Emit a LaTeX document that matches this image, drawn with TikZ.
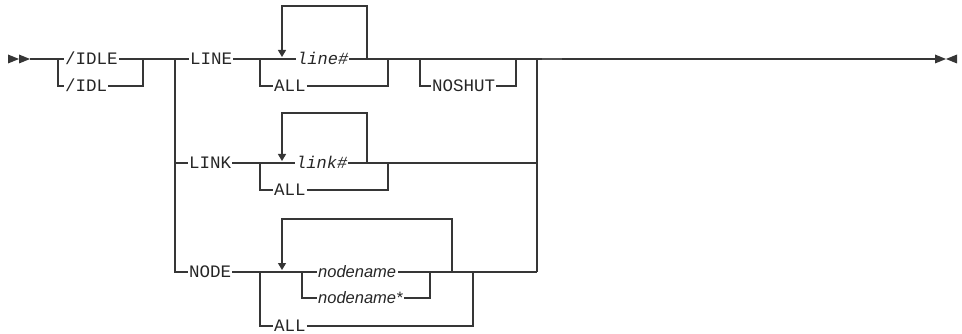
\documentclass[tikz,border=0pt]{standalone}
\usepackage{fontspec}
\setmainfont{Liberation Sans}
\newfontfamily\monofam{Liberation Mono}
\usetikzlibrary{arrows.meta}
\definecolor{linecol}{HTML}{363636}
\definecolor{textcol}{HTML}{262626}
\begin{document}
\begin{tikzpicture}[x=1pt,y=-1pt,
  rail/.style={draw=linecol,line width=1.2pt},
  loop/.style={rail,-{Triangle[width=8pt,length=7pt]}},
  tip/.style={fill=linecol,draw=none},
  kw/.style={anchor=west,inner xsep=1pt,inner ysep=0pt,text height=11.5pt,text depth=0pt,
    font=\monofam\fontsize{17.5}{17.5}\selectfont,text=textcol},
  mvar/.style={anchor=west,inner xsep=1pt,inner ysep=0pt,text height=11.5pt,text depth=0pt,
    font=\monofam\itshape\fontsize{17}{17}\selectfont,text=textcol},
  svar/.style={anchor=west,inner xsep=1.5pt,inner ysep=0pt,text height=11.5pt,text depth=0pt,
    font=\itshape\fontsize{16.5}{16.5}\selectfont,text=textcol}]
\useasboundingbox (0,0) rectangle (962,334);

% start and end markers
\fill[tip] (8,54.5) -- (19,59) -- (8,63.5) -- cycle;
\fill[tip] (19,54.5) -- (30,59) -- (19,63.5) -- cycle;
\fill[tip] (935,54.5) -- (946,59) -- (935,63.5) -- cycle;
\fill[tip] (957,54.5) -- (946,59) -- (957,63.5) -- cycle;

% coordinates
\coordinate (s) at (30,59);
\coordinate (f1) at (58,59);
\coordinate (m1) at (143,59);
\coordinate (f2) at (175,59);
\coordinate (f3) at (260,59);
\coordinate (l1a) at (282,57);
\coordinate (l1r) at (367,59);
\coordinate (m3) at (388,59);
\coordinate (f4) at (420,59);
\coordinate (m4) at (516,59);
\coordinate (j) at (537,59);
\coordinate (g1) at (542,59);
\coordinate (g2) at (562,59);
\coordinate (e) at (935,59);
\coordinate (f5) at (260,163);
\coordinate (l2a) at (282,161);
\coordinate (l2r) at (367,163);
\coordinate (m5) at (388,163);
\coordinate (j2) at (537,163);
\coordinate (f6) at (260,272);
\coordinate (l3a) at (282,270);
\coordinate (f7) at (302,272);
\coordinate (m7) at (430,272);
\coordinate (l3r) at (452,272);
\coordinate (m8) at (473,272);
\coordinate (j3) at (537,272);

% text nodes
\node[kw] (idle) at (64,59) {/IDLE};
\node[kw] (idl) at (64,86) {/IDL};
\node[kw] (line) at (189,59) {LINE};
\node[mvar] (linenum) at (296,59) {line\#};
\node[kw] (all1) at (273,86) {ALL};
\node[kw] (noshut) at (431,86) {NOSHUT};
\node[kw] (link) at (188,163) {LINK};
\node[mvar] (linknum) at (295,163) {link\#};
\node[kw] (all2) at (273,190) {ALL};
\node[kw] (node) at (188,272) {NODE};
\node[svar] (nn) at (316.5,272) {nodename};
\node[svar] (nns) at (316.5,298) {nodename*};
\node[kw] (all3) at (273,326) {ALL};

% first choice
\draw[rail] (s) -- (f1) -- (idle.west);
\draw[rail] (f1) |- (idl.west);
\draw[rail] (idle.east) -- (m1);
\draw[rail] (idl.east) -| (m1);
\draw[rail] (m1) -- (f2) -- (line.west);

% LINE row
\draw[rail] (line.east) -- (f3) -- (linenum.west);
\draw[rail] (f3) |- (all1.west);
\draw[loop] (l1r) -- ++(0,-53) -| (l1a);
\draw[rail] (linenum.east) -- (m3);
\draw[rail] (all1.east) -| (m3);
\draw[rail] (m3) -- (f4) -- (m4) -- (j) -- (e);
\draw[rail] (f4) |- (noshut.west);
\draw[rail] (noshut.east) -| (m4);
\draw[line width=1.7pt,draw=black!68] (g1) -- (g2);

% LINK row
\draw[rail] (f2) |- (link.west);
\draw[rail] (link.east) -- (f5) -- (linknum.west);
\draw[rail] (f5) |- (all2.west);
\draw[loop] (l2r) -- ++(0,-50) -| (l2a);
\draw[rail] (linknum.east) -- (m5) -- (j2);
\draw[rail] (all2.east) -| (m5);

% NODE row
\draw[rail] (f2) |- (node.west);
\draw[rail] (node.east) -- (f6) -- (f7) -- (nn.west);
\draw[rail] (f6) |- (all3.west);
\draw[rail] (f7) |- (nns.west);
\draw[rail] (nn.east) -- (m7) -- (l3r) -- (m8) -- (j3);
\draw[rail] (nns.east) -| (m7);
\draw[rail] (all3.east) -| (m8);
\draw[loop] (l3r) -- ++(0,-53) -| (l3a);
\draw[rail] (j3) -- (j);
\end{tikzpicture}
\end{document}
